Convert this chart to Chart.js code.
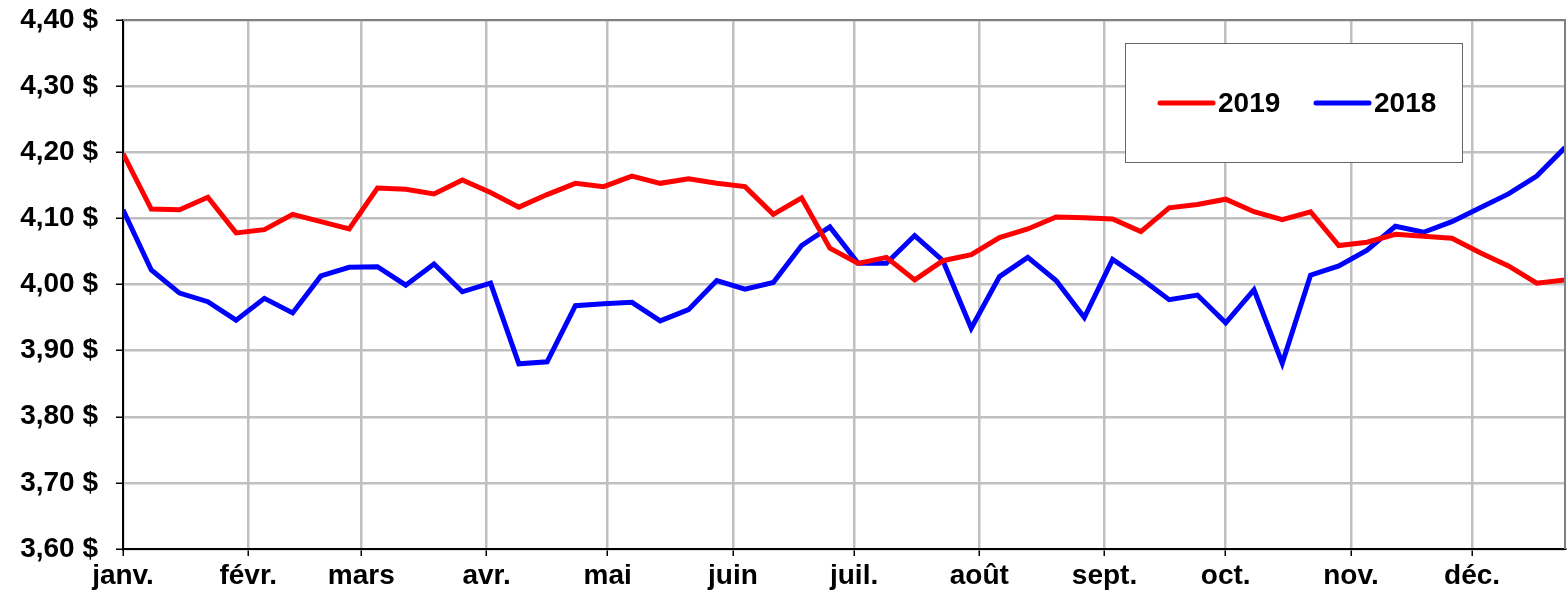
<!DOCTYPE html>
<html>
<head>
<meta charset="utf-8">
<script src="https://cdn.jsdelivr.net/npm/chart.js@4/dist/chart.umd.min.js"></script>
<style>
  html, body { margin: 0; padding: 0; background: #fff; }
  #wrap { width: 1568px; height: 593px; }
</style>
</head>
<body>
<div id="wrap"><canvas id="chart"></canvas></div>
<script>
// weekly prices, x = day of year of each week
const weekDays = [0, 7, 14, 21, 28, 35, 42, 49, 56, 63, 70, 77, 84, 91, 98, 105, 112, 119, 126, 133, 140, 147, 154, 161, 168, 175,
  182, 189, 196, 203, 210, 217, 224, 231, 238, 245, 252, 259, 266, 273, 280, 287, 294, 301, 308, 315, 322, 329, 336, 343, 350, 357];

const prices2019 = [4.198, 4.114, 4.113, 4.132, 4.078, 4.083, 4.106, 4.095, 4.084, 4.146, 4.144, 4.137, 4.158,
  4.139, 4.117, 4.136, 4.153, 4.148, 4.164, 4.153, 4.160, 4.153, 4.148, 4.106, 4.131, 4.055,
  4.032, 4.041, 4.007, 4.036, 4.045, 4.071, 4.084, 4.102, 4.101, 4.099, 4.080, 4.116, 4.121,
  4.129, 4.110, 4.098, 4.110, 4.059, 4.064, 4.076, 4.073, 4.070, 4.048, 4.028, 4.002, 4.007];

const prices2018 = [4.113, 4.022, 3.987, 3.974, 3.946, 3.979, 3.957, 4.013, 4.026, 4.027, 3.999, 4.031, 3.989,
  4.002, 3.880, 3.883, 3.968, 3.971, 3.973, 3.945, 3.962, 4.006, 3.993, 4.003, 4.059, 4.087,
  4.032, 4.032, 4.074, 4.036, 3.934, 4.012, 4.041, 4.006, 3.950, 4.038, 4.009, 3.977, 3.984,
  3.942, 3.992, 3.881, 4.014, 4.028, 4.052, 4.088, 4.079, 4.095, 4.116, 4.137, 4.164, 4.207];

const monthStarts = [0, 31, 59, 90, 120, 151, 181, 212, 243, 273, 304, 334];
const monthLabels = ['janv.', 'févr.', 'mars', 'avr.', 'mai', 'juin', 'juil.', 'août', 'sept.', 'oct.', 'nov.', 'déc.'];

const FONT = "'Liberation Sans', Arial, sans-serif";

function toPoints(vals) {
  return vals.map((v, i) => ({ x: weekDays[i], y: v }));
}

// frame + legend box drawn inside the plot
const framePlugin = {
  id: 'frame',
  afterDraw(chart) {
    const { ctx, chartArea: a } = chart;
    ctx.save();
    ctx.strokeStyle = '#808080';
    ctx.lineWidth = 2;
    ctx.beginPath();
    ctx.moveTo(a.left, a.top);
    ctx.lineTo(a.right, a.top);
    ctx.lineTo(a.right, a.bottom);
    ctx.stroke();

    // legend
    const bx = a.right - 440, by = a.top + 23, bw = 337, bh = 119;
    ctx.fillStyle = '#fff';
    ctx.fillRect(bx, by, bw, bh);
    ctx.strokeStyle = '#666';
    ctx.lineWidth = 1;
    ctx.strokeRect(bx + 0.5, by + 0.5, bw, bh);
    const cy = by + 60;
    ctx.font = 'bold 28px ' + FONT;
    ctx.textBaseline = 'middle';
    ctx.lineCap = 'round';
    let x = bx + 35;
    chart.data.datasets.forEach(ds => {
      ctx.strokeStyle = ds.borderColor;
      ctx.lineWidth = 5;
      ctx.beginPath();
      ctx.moveTo(x, cy);
      ctx.lineTo(x + 53, cy);
      ctx.stroke();
      ctx.fillStyle = '#000';
      ctx.fillText(ds.label, x + 58, cy + 1);
      x += 156;
    });
    ctx.restore();
  }
};

new Chart(document.getElementById('chart'), {
  type: 'line',
  data: {
    datasets: [
      { label: '2019', data: toPoints(prices2019), borderColor: '#ff0000', backgroundColor: '#ff0000' },
      { label: '2018', data: toPoints(prices2018), borderColor: '#0000ff', backgroundColor: '#0000ff' }
    ]
  },
  options: {
    responsive: true,
    maintainAspectRatio: false,
    animation: false,
    layout: { padding: { top: 20, right: 3, left: 0, bottom: 0 } },
    elements: {
      point: { radius: 0, hoverRadius: 0 },
      line: { borderWidth: 5, tension: 0, borderJoinStyle: 'miter' }
    },
    plugins: {
      legend: { display: false },
      tooltip: { enabled: false }
    },
    scales: {
      x: {
        type: 'linear',
        min: 0,
        max: 357,
        afterBuildTicks(scale) {
          scale.ticks = monthStarts.map(v => ({ value: v }));
        },
        afterFit(scale) {
          scale.height = 44;
          scale.paddingLeft = 0;
          scale.paddingRight = 0;
        },
        ticks: {
          autoSkip: false,
          maxRotation: 0,
          padding: 3,
          color: '#000',
          font: { family: FONT, size: 28, weight: 'bold' },
          callback: v => monthLabels[monthStarts.indexOf(v)]
        },
        grid: { color: '#c0c0c0', lineWidth: 2.5, tickLength: 7, tickColor: '#000', tickWidth: 1.5 },
        border: { color: '#000', width: 2 }
      },
      y: {
        min: 3.6,
        max: 4.4,
        afterFit(scale) {
          scale.width = 123;
          scale.paddingTop = 0;
          scale.paddingBottom = 0;
        },
        ticks: {
          stepSize: 0.1,
          padding: 18,
          color: '#000',
          font: { family: FONT, size: 28, weight: 'bold' },
          callback: v => v.toFixed(2).replace('.', ',') + ' $'
        },
        grid: { color: '#c0c0c0', lineWidth: 2.5, tickLength: 7, tickColor: '#000', tickWidth: 1.5 },
        border: { color: '#000', width: 2 }
      }
    }
  },
  plugins: [framePlugin]
});
</script>
</body>
</html>
